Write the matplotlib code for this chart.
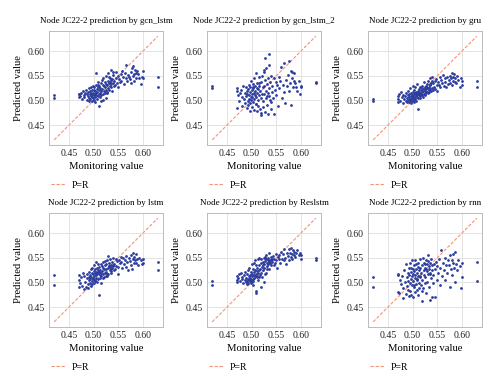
import matplotlib
matplotlib.use('Agg')
import matplotlib.pyplot as plt

plt.rcParams['font.family'] = ['Liberation Serif', 'DejaVu Serif']

# monitoring (true) values, shared by all six models
monitoring = [
    .420, .420, .470, .470, .471, .473, .475, .477, .479, .480,
    .481, .483, .484, .486, .487, .488, .489, .490, .490, .491,
    .492, .492, .493, .494, .494, .495, .496, .496, .497, .498,
    .498, .499, .500, .500, .501, .501, .502, .502, .503, .504,
    .504, .505, .505, .506, .506, .507, .508, .508, .509, .510,
    .510, .511, .511, .512, .513, .513, .514, .515, .515, .516,
    .517, .518, .518, .519, .520, .521, .522, .522, .523, .524,
    .525, .526, .527, .528, .529, .530, .530, .531, .532, .533,
    .533, .534, .535, .535, .536, .537, .538, .539, .540, .541,
    .542, .543, .545, .546, .548, .549, .550, .552, .553, .555,
    .556, .558, .560, .561, .563, .565, .566, .568, .570, .571,
    .573, .575, .576, .578, .579, .580, .581, .582, .583, .585,
    .586, .588, .590, .592, .595, .598, .599, .600, .518, .527,
    .531, .536, .503, .497, .509, .514, .524, .539, .630, .630,
]

pred_gcn_lstm = [
    .510, .505, .507, .512, .514, .509, .516, .503, .519, .511,
    .506, .515, .522, .500, .512, .508, .518, .498, .525, .504,
    .512, .519, .502, .527, .508, .516, .498, .521, .510, .530,
    .505, .515, .522, .510, .500, .527, .513, .519, .506, .532,
    .516, .556, .510, .523, .503, .518, .528, .509, .537, .514,
    .521, .488, .530, .515, .526, .507, .535, .519, .511, .541,
    .524, .532, .513, .546, .520, .529, .538, .515, .527, .534,
    .522, .549, .531, .518, .540, .526, .555, .535, .521, .545,
    .530, .538, .527, .561, .533, .544, .520, .536, .551, .529,
    .540, .532, .557, .546, .536, .550, .528, .543, .538, .553,
    .540, .560, .547, .534, .556, .545, .571, .539, .552, .548,
    .543, .558, .536, .565, .549, .570, .553, .540, .562, .556,
    .546, .560, .553, .545, .533, .547, .560, .545, .500, .516,
    .548, .542, .497, .507, .531, .498, .505, .558, .548, .528,
]

pred_gcn_lstm_2 = [
    .530, .525, .484, .520, .525, .511, .498, .515, .522, .506,
    .488, .530, .502, .515, .495, .527, .508, .485, .520, .512,
    .498, .524, .490, .510, .532, .503, .517, .494, .527, .506,
    .540, .500, .513, .486, .522, .507, .528, .497, .534, .515,
    .502, .545, .481, .520, .510, .530, .492, .556, .506, .525,
    .478, .516, .536, .500, .523, .488, .548, .511, .529, .482,
    .520, .505, .538, .475, .514, .550, .498, .527, .487, .562,
    .512, .530, .476, .541, .505, .520, .566, .490, .533, .515,
    .472, .545, .508, .593, .526, .500, .537, .482, .550, .518,
    .530, .505, .545, .472, .522, .538, .510, .532, .488, .548,
    .525, .540, .567, .505, .532, .517, .575, .494, .542, .530,
    .552, .520, .580, .535, .560, .490, .545, .557, .527, .540,
    .555, .535, .528, .520, .540, .512, .530, .527, .470, .585,
    .508, .572, .525, .478, .493, .535, .558, .496, .538, .535,
]

pred_gru = [
    .503, .498, .497, .509, .503, .513, .499, .518, .506, .494,
    .511, .502, .508, .499, .515, .505, .496, .510, .520, .501,
    .507, .497, .512, .503, .525, .500, .509, .515, .494, .505,
    .511, .498, .504, .518, .508, .530, .501, .512, .522, .507,
    .515, .503, .527, .510, .498, .518, .506, .534, .512, .520,
    .483, .514, .505, .524, .510, .518, .528, .508, .515, .521,
    .512, .525, .517, .530, .506, .519, .523, .537, .514, .527,
    .520, .511, .530, .524, .518, .533, .526, .515, .539, .522,
    .528, .517, .545, .523, .531, .519, .536, .526, .547, .521,
    .535, .527, .540, .524, .544, .531, .520, .537, .532, .548,
    .528, .542, .535, .552, .530, .545, .538, .527, .548, .533,
    .541, .550, .536, .545, .556, .532, .548, .540, .553, .538,
    .546, .535, .550, .541, .528, .545, .532, .540, .510, .518,
    .525, .533, .497, .501, .515, .504, .513, .540, .540, .527,
]

pred_lstm = [
    .514, .494, .490, .514, .505, .498, .511, .493, .520, .487,
    .513, .500, .491, .508, .517, .496, .488, .504, .522, .510,
    .498, .515, .507, .527, .493, .511, .519, .502, .530, .506,
    .516, .508, .523, .498, .535, .512, .519, .503, .527, .514,
    .542, .509, .521, .500, .530, .516, .525, .507, .537, .519,
    .522, .475, .531, .514, .526, .508, .538, .520, .513, .533,
    .524, .541, .516, .530, .510, .527, .544, .519, .535, .528,
    .522, .537, .513, .545, .529, .554, .518, .534, .540, .526,
    .531, .547, .523, .536, .519, .541, .529, .550, .533, .525,
    .537, .528, .548, .533, .543, .518, .531, .545, .539, .552,
    .542, .529, .550, .537, .545, .532, .553, .541, .526, .549,
    .544, .536, .555, .528, .547, .560, .539, .551, .545, .557,
    .540, .548, .535, .550, .545, .538, .548, .540, .508, .517,
    .534, .527, .505, .497, .521, .498, .512, .536, .541, .526,
]

pred_reslstm = [
    .503, .494, .500, .512, .505, .509, .517, .503, .520, .506,
    .511, .498, .515, .505, .522, .500, .509, .496, .518, .503,
    .507, .525, .499, .512, .504, .530, .502, .515, .509, .498,
    .521, .505, .512, .537, .500, .516, .507, .527, .503, .540,
    .515, .522, .508, .545, .512, .526, .479, .517, .535, .510,
    .524, .530, .513, .547, .520, .505, .535, .526, .550, .515,
    .528, .540, .520, .548, .531, .510, .542, .535, .525, .549,
    .538, .530, .552, .544, .520, .547, .556, .540, .533, .545,
    .549, .538, .543, .560, .527, .546, .540, .551, .535, .548,
    .542, .553, .536, .548, .540, .557, .545, .530, .552, .547,
    .555, .540, .562, .548, .557, .545, .568, .550, .538, .560,
    .553, .567, .546, .560, .551, .570, .558, .548, .565, .556,
    .561, .552, .560, .566, .555, .560, .548, .556, .490, .518,
    .527, .542, .495, .506, .483, .510, .500, .545, .550, .546,
]

pred_rnn = [
    .510, .490, .480, .515, .518, .478, .505, .496, .512, .468,
    .488, .525, .500, .537, .476, .510, .492, .520, .503, .485,
    .530, .472, .515, .498, .540, .482, .522, .507, .475, .545,
    .512, .495, .528, .470, .518, .503, .535, .490, .523, .508,
    .545, .480, .515, .527, .497, .538, .485, .520, .505, .532,
    .475, .512, .540, .498, .525, .488, .548, .510, .530, .494,
    .520, .462, .536, .505, .550, .488, .525, .515, .540, .498,
    .530, .510, .545, .478, .523, .538, .500, .555, .517, .533,
    .490, .528, .540, .465, .520, .547, .508, .535, .525, .498,
    .515, .537, .528, .470, .542, .505, .533, .520, .548, .495,
    .530, .565, .512, .540, .525, .505, .550, .535, .520, .545,
    .535, .490, .555, .528, .545, .515, .540, .558, .530, .500,
    .562, .538, .525, .545, .533, .488, .540, .510, .482, .527,
    .544, .518, .495, .530, .507, .512, .538, .470, .541, .502,
]

models = ['gcn_lstm', 'gcn_lstm_2', 'gru', 'lstm', 'Reslstm', 'rnn']
preds = [pred_gcn_lstm, pred_gcn_lstm_2, pred_gru, pred_lstm, pred_reslstm, pred_rnn]
ticks = [0.45, 0.50, 0.55, 0.60]

fig = plt.figure(figsize=(5, 3.88), dpi=100)
lefts = [0.098, 0.414, 0.736]
bottoms = [0.626, 0.157]

lo, hi = min(monitoring), max(monitoring)
for k in range(6):
    ax = fig.add_axes([lefts[k % 3], bottoms[k // 3], 0.228, 0.294])
    ax.plot([lo, hi], [lo, hi], color='#f39478', linestyle='--', linewidth=0.8,
            dashes=(3, 1.5), label='P=R', zorder=2)
    ax.scatter(monitoring, preds[k], s=4, color='#2b3c9e', linewidths=0, zorder=3)
    ax.set_xlim(0.4095, 0.6405)
    ax.set_ylim(0.4095, 0.6405)
    ax.set_xticks(ticks)
    ax.set_yticks(ticks)
    ax.set_xticklabels(['%.2f' % t for t in ticks])
    ax.set_yticklabels(['%.2f' % t for t in ticks])
    ax.tick_params(length=0, labelsize=7, pad=3, labelcolor='#222222')
    ax.grid(True, color='#e3e3e3', linewidth=0.7, zorder=0)
    ax.set_axisbelow(True)
    for sp in ax.spines.values():
        sp.set_color('#bbbbbb')
        sp.set_linewidth(0.7)
    ax.set_title('Node JC22-2 prediction by ' + models[k], fontsize=6.5, pad=6)
    ax.set_xlabel('Monitoring value', fontsize=7.7, labelpad=3)
    ax.set_ylabel('Predicted value', fontsize=7.7, labelpad=3)
    ax.legend(loc='center left', bbox_to_anchor=(-0.02, -0.35), frameon=False,
              fontsize=7, handlelength=1.6, handletextpad=0.6, borderaxespad=0)

fig.savefig('out.png', dpi=100)
